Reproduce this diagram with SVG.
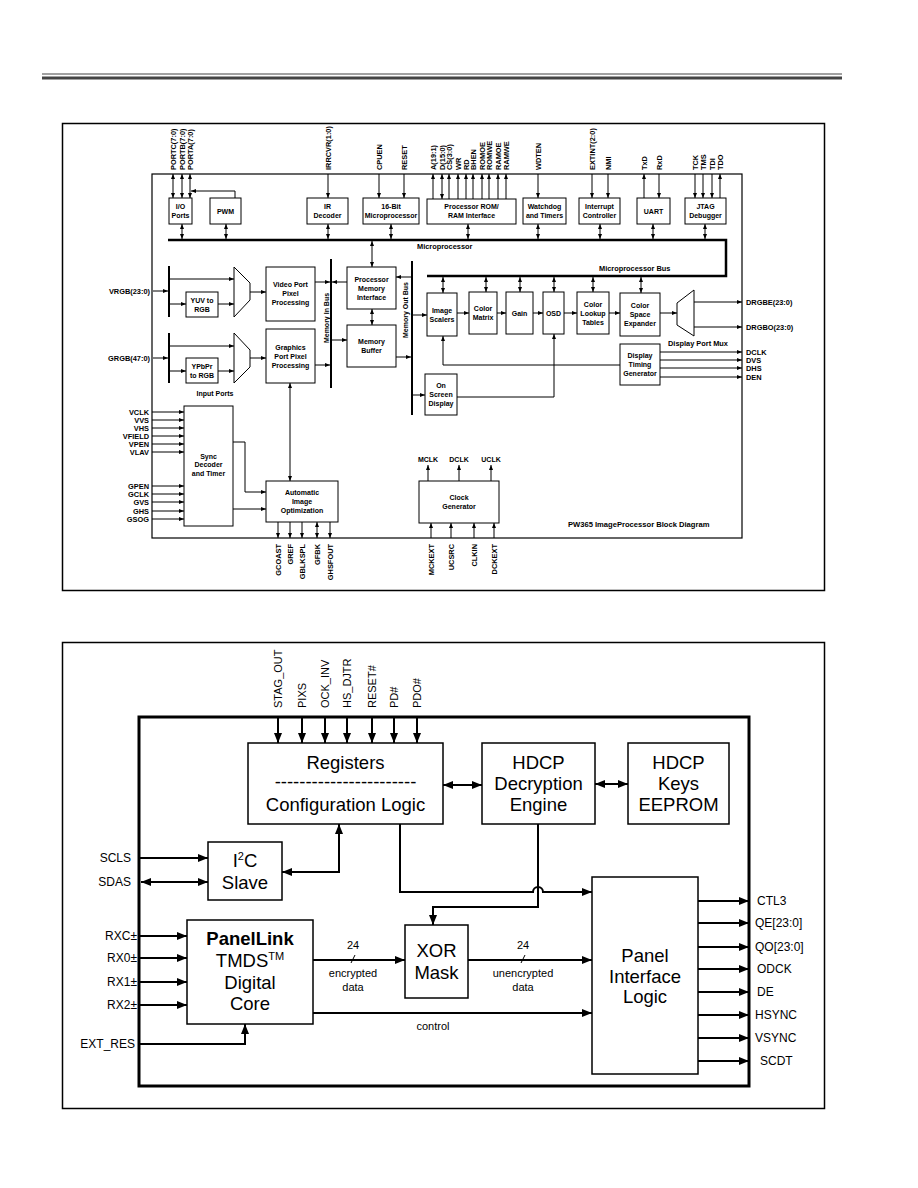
<svg xmlns="http://www.w3.org/2000/svg" width="918" height="1188" viewBox="0 0 918 1188">
<defs>
<marker id="s" viewBox="0 0 10 8" refX="10" refY="4" markerWidth="5" markerHeight="4" markerUnits="userSpaceOnUse" orient="auto-start-reverse"><path d="M0,0L10,4L0,8z" fill="#000"/></marker>
<marker id="b" viewBox="0 0 10 8" refX="10" refY="4" markerWidth="11" markerHeight="8" markerUnits="userSpaceOnUse" orient="auto-start-reverse"><path d="M0,0L10,4L0,8z" fill="#000"/></marker>
<style>
.bx{fill:#fff;stroke:#000;stroke-width:1}
.bx2{fill:#fff;stroke:#000;stroke-width:1.5}
.c{fill:none;stroke:#000;stroke-width:1}
.ca{fill:none;stroke:#000;stroke-width:1;marker-end:url(#s)}
.cd{fill:none;stroke:#000;stroke-width:1;marker-start:url(#s);marker-end:url(#s)}
.bus{fill:none;stroke:#000;stroke-width:2.5}
.C{fill:none;stroke:#000;stroke-width:2}
.CA{fill:none;stroke:#000;stroke-width:2;marker-end:url(#b)}
.CD{fill:none;stroke:#000;stroke-width:2;marker-start:url(#b);marker-end:url(#b)}
text{font-family:"Liberation Sans",Arial,sans-serif;fill:#000}
.t{font-size:7px;font-weight:bold;text-anchor:middle}
.tl{font-size:7.4px;font-weight:bold}
.tr{font-size:7.4px;font-weight:bold;text-anchor:end}
.T{font-size:18.5px;text-anchor:middle}
.L{font-size:12px}
.Lr{font-size:12px;text-anchor:end}
.P{font-size:11px}
.m{font-size:11px;text-anchor:middle}
</style>
</defs>
<rect width="918" height="1188" fill="#fff"/>
<g id="header">
<line x1="42" y1="74" x2="842" y2="74" stroke="#444" stroke-width="1.2"/>
<line x1="42" y1="78" x2="842" y2="78" stroke="#444" stroke-width="3"/>
</g>

<!-- ================= TOP DIAGRAM ================= -->
<g id="top-frame">
<rect x="62.5" y="123.5" width="762" height="467" fill="none" stroke="#000" stroke-width="1.5"/>
<rect x="152" y="174" width="590" height="364" fill="none" stroke="#000" stroke-width="1.2"/>
<text class="tl" x="568" y="527" style="font-size:7.6px">PW365 ImageProcessor Block Diagram</text>
</g>

<g id="top-connectors">
<line class="cd" x1="173" y1="174" x2="173" y2="198"/>
<line class="cd" x1="182" y1="174" x2="182" y2="198"/>
<line class="cd" x1="190" y1="174" x2="190" y2="198"/>
<polyline class="ca" points="235,198 235,191 191,191"/>
<line class="ca" x1="328" y1="174" x2="328" y2="198"/>
<line class="ca" x1="379" y1="174" x2="379" y2="198"/>
<line class="ca" x1="404" y1="174" x2="404" y2="198"/>
<line class="ca" x1="433" y1="199" x2="433" y2="174"/>
<line class="cd" x1="442" y1="174" x2="442" y2="199"/>
<line class="ca" x1="449" y1="199" x2="449" y2="174"/>
<line class="ca" x1="458" y1="199" x2="458" y2="174"/>
<line class="ca" x1="466" y1="199" x2="466" y2="174"/>
<line class="ca" x1="473" y1="199" x2="473" y2="174"/>
<line class="ca" x1="482" y1="199" x2="482" y2="174"/>
<line class="ca" x1="489" y1="199" x2="489" y2="174"/>
<line class="ca" x1="498" y1="199" x2="498" y2="174"/>
<line class="ca" x1="506" y1="199" x2="506" y2="174"/>
<line class="ca" x1="538" y1="174" x2="538" y2="198"/>
<line class="ca" x1="592" y1="174" x2="592" y2="198"/>
<line class="ca" x1="608" y1="174" x2="608" y2="198"/>
<line class="ca" x1="644" y1="198" x2="644" y2="174"/>
<line class="ca" x1="659" y1="174" x2="659" y2="198"/>
<line class="ca" x1="695" y1="174" x2="695" y2="198"/>
<line class="ca" x1="703" y1="174" x2="703" y2="198"/>
<line class="ca" x1="712" y1="174" x2="712" y2="198"/>
<line class="ca" x1="720" y1="198" x2="720" y2="174"/>
<line class="cd" x1="182" y1="224" x2="182" y2="239"/>
<line class="cd" x1="226" y1="224" x2="226" y2="239"/>
<line class="cd" x1="328" y1="224" x2="328" y2="239"/>
<line class="cd" x1="391" y1="224" x2="391" y2="239"/>
<line class="cd" x1="468" y1="224" x2="468" y2="239"/>
<line class="cd" x1="538" y1="224" x2="538" y2="239"/>
<line class="cd" x1="600" y1="224" x2="600" y2="239"/>
<line class="cd" x1="653" y1="224" x2="653" y2="239"/>
<line class="cd" x1="705" y1="224" x2="705" y2="239"/>
<polyline class="bus" points="168,240 726,240 726,276 427,276"/>
<text class="tl" x="417" y="249">Microprocessor</text>
<text class="tl" x="599" y="271">Microprocessor Bus</text>
<line class="cd" x1="372" y1="241" x2="372" y2="267"/>
<line class="cd" x1="372" y1="309" x2="372" y2="325"/>
<line class="C" x1="331" y1="259" x2="331" y2="388"/>
<text class="t" transform="translate(329,318) rotate(-90)">Memory In Bus</text>
<line class="C" x1="412" y1="261" x2="412" y2="415"/>
<text class="t" transform="translate(407.5,310) rotate(-90)">Memory Out Bus</text>
<line class="ca" x1="315" y1="282" x2="330" y2="282"/>
<line class="ca" x1="347" y1="282" x2="332" y2="282"/>
<line class="ca" x1="332" y1="340" x2="347" y2="340"/>
<line class="ca" x1="315" y1="365" x2="330" y2="365"/>
<line class="ca" x1="411" y1="277" x2="396" y2="277"/>
<line class="ca" x1="396" y1="357" x2="411" y2="357"/>
<line class="ca" x1="413" y1="315" x2="427" y2="315"/>
<line class="ca" x1="413" y1="395" x2="425" y2="395"/>
<line class="ca" x1="153" y1="291" x2="168" y2="291"/>
<line class="C" x1="169" y1="266" x2="169" y2="317"/>
<line class="ca" x1="170" y1="279" x2="234" y2="279"/>
<line class="ca" x1="170" y1="304" x2="186" y2="304"/>
<line class="ca" x1="218" y1="304" x2="234" y2="304"/>
<line class="ca" x1="250" y1="292" x2="266" y2="292"/>
<line class="ca" x1="153" y1="358" x2="168" y2="358"/>
<line class="C" x1="169" y1="333" x2="169" y2="383"/>
<line class="ca" x1="170" y1="346" x2="234" y2="346"/>
<line class="ca" x1="170" y1="371" x2="186" y2="371"/>
<line class="ca" x1="218" y1="371" x2="234" y2="371"/>
<line class="ca" x1="250" y1="358" x2="266" y2="358"/>
<line class="cd" x1="290" y1="383" x2="290" y2="481"/>
<line class="ca" x1="152" y1="412" x2="184" y2="412"/>
<line class="ca" x1="152" y1="420" x2="184" y2="420"/>
<line class="ca" x1="152" y1="428" x2="184" y2="428"/>
<line class="ca" x1="152" y1="436" x2="184" y2="436"/>
<line class="ca" x1="152" y1="444" x2="184" y2="444"/>
<line class="ca" x1="152" y1="452" x2="184" y2="452"/>
<line class="ca" x1="152" y1="486" x2="184" y2="486"/>
<line class="ca" x1="152" y1="494" x2="184" y2="494"/>
<line class="ca" x1="152" y1="502" x2="184" y2="502"/>
<line class="ca" x1="152" y1="511" x2="184" y2="511"/>
<line class="ca" x1="152" y1="519" x2="184" y2="519"/>
<polyline class="ca" points="233,442 245,442 245,492 266,492"/>
<line class="ca" x1="233" y1="509" x2="266" y2="509"/>
<line class="ca" x1="278" y1="522" x2="278" y2="538"/>
<line class="ca" x1="290" y1="522" x2="290" y2="538"/>
<line class="ca" x1="302" y1="522" x2="302" y2="538"/>
<line class="cd" x1="317" y1="522" x2="317" y2="538"/>
<line class="ca" x1="330" y1="522" x2="330" y2="538"/>
<line class="ca" x1="457" y1="313" x2="469" y2="313"/>
<line class="ca" x1="497" y1="313" x2="506" y2="313"/>
<line class="ca" x1="533" y1="313" x2="543" y2="313"/>
<line class="ca" x1="564" y1="313" x2="577" y2="313"/>
<line class="ca" x1="609" y1="313" x2="620" y2="313"/>
<line class="ca" x1="660" y1="313" x2="677" y2="313"/>
<line class="cd" x1="443" y1="277" x2="443" y2="293"/>
<line class="cd" x1="486" y1="277" x2="486" y2="292"/>
<line class="cd" x1="520" y1="277" x2="520" y2="292"/>
<line class="cd" x1="554" y1="277" x2="554" y2="292"/>
<line class="cd" x1="593" y1="277" x2="593" y2="292"/>
<line class="cd" x1="641" y1="277" x2="641" y2="293"/>
<line class="ca" x1="694" y1="302" x2="742" y2="302"/>
<line class="ca" x1="694" y1="327" x2="742" y2="327"/>
<line class="ca" x1="660" y1="352" x2="742" y2="352"/>
<line class="ca" x1="660" y1="360" x2="742" y2="360"/>
<line class="ca" x1="660" y1="368" x2="742" y2="368"/>
<line class="ca" x1="660" y1="377" x2="742" y2="377"/>
<polyline class="ca" points="620,365 443,365 443,336"/>
<polyline class="ca" points="457,397 554,397 554,334"/>
<line class="ca" x1="428" y1="481" x2="428" y2="465"/>
<line class="ca" x1="459" y1="481" x2="459" y2="465"/>
<line class="ca" x1="491" y1="481" x2="491" y2="465"/>
<line class="ca" x1="431" y1="538" x2="431" y2="523"/>
<line class="ca" x1="451" y1="538" x2="451" y2="523"/>
<line class="ca" x1="474" y1="538" x2="474" y2="523"/>
<line class="ca" x1="494" y1="538" x2="494" y2="523"/>
</g>

<g id="top-pin-labels">
<text class="tl" transform="translate(175.5,170) rotate(-90)">PORTC(7:0)</text>
<text class="tl" transform="translate(184.5,170) rotate(-90)">PORTB(7:0)</text>
<text class="tl" transform="translate(192.5,170) rotate(-90)">PORTA(7:0)</text>
<text class="tl" transform="translate(330.5,170) rotate(-90)">IRRCVR(1:0)</text>
<text class="tl" transform="translate(381.5,170) rotate(-90)">CPUEN</text>
<text class="tl" transform="translate(406.5,170) rotate(-90)">RESET</text>
<text class="tl" transform="translate(435.5,170) rotate(-90)">A(19:1)</text>
<text class="tl" transform="translate(444.5,170) rotate(-90)">D(15:0)</text>
<text class="tl" transform="translate(451.5,170) rotate(-90)">CS(3:0)</text>
<text class="tl" transform="translate(460.5,170) rotate(-90)">WR</text>
<text class="tl" transform="translate(468.5,170) rotate(-90)">RD</text>
<text class="tl" transform="translate(475.5,170) rotate(-90)">BHEN</text>
<text class="tl" transform="translate(484.5,170) rotate(-90)">ROMOE</text>
<text class="tl" transform="translate(491.5,170) rotate(-90)">ROMWE</text>
<text class="tl" transform="translate(500.5,170) rotate(-90)">RAMOE</text>
<text class="tl" transform="translate(508.5,170) rotate(-90)">RAMWE</text>
<text class="tl" transform="translate(540.5,170) rotate(-90)">WDTEN</text>
<text class="tl" transform="translate(594.5,170) rotate(-90)">EXTINT(2:0)</text>
<text class="tl" transform="translate(610.5,170) rotate(-90)">NMI</text>
<text class="tl" transform="translate(646.5,170) rotate(-90)">TxD</text>
<text class="tl" transform="translate(661.5,170) rotate(-90)">RxD</text>
<text class="tl" transform="translate(697.5,170) rotate(-90)">TCK</text>
<text class="tl" transform="translate(705.5,170) rotate(-90)">TMS</text>
<text class="tl" transform="translate(714.5,170) rotate(-90)">TDI</text>
<text class="tl" transform="translate(722.5,170) rotate(-90)">TDO</text>
<text class="tr" x="150" y="293.5">VRGB(23:0)</text>
<text class="tr" x="150" y="360.5">GRGB(47:0)</text>
<text class="tr" x="149" y="414.5">VCLK</text>
<text class="tr" x="149" y="422.5">VVS</text>
<text class="tr" x="149" y="430.5">VHS</text>
<text class="tr" x="149" y="438.5">VFIELD</text>
<text class="tr" x="149" y="446.5">VPEN</text>
<text class="tr" x="149" y="454.5">VLAV</text>
<text class="tr" x="149" y="488.5">GPEN</text>
<text class="tr" x="149" y="496.5">GCLK</text>
<text class="tr" x="149" y="504.5">GVS</text>
<text class="tr" x="149" y="513.5">GHS</text>
<text class="tr" x="149" y="521.5">GSOG</text>
<text class="tr" transform="translate(280.5,544) rotate(-90)">GCOAST</text>
<text class="tr" transform="translate(292.5,544) rotate(-90)">GREF</text>
<text class="tr" transform="translate(304.5,544) rotate(-90)">GBLKSPL</text>
<text class="tr" transform="translate(319.5,544) rotate(-90)">GFBK</text>
<text class="tr" transform="translate(332.5,544) rotate(-90)">GHSFOUT</text>
<text class="tr" transform="translate(433.5,544) rotate(-90)">MCKEXT</text>
<text class="tr" transform="translate(453.5,544) rotate(-90)">UCSRC</text>
<text class="tr" transform="translate(476.5,544) rotate(-90)">CLKIN</text>
<text class="tr" transform="translate(496.5,544) rotate(-90)">DCKEXT</text>
<text class="t" x="428" y="462">MCLK</text>
<text class="t" x="459" y="462">DCLK</text>
<text class="t" x="491" y="462">UCLK</text>
<text class="tl" x="746" y="304.5">DRGBE(23:0)</text>
<text class="tl" x="746" y="329.5">DRGBO(23:0)</text>
<text class="tl" x="746" y="354.5">DCLK</text>
<text class="tl" x="746" y="362.5">DVS</text>
<text class="tl" x="746" y="370.5">DHS</text>
<text class="tl" x="746" y="379.5">DEN</text>
<text class="t" x="215" y="395.5">Input Ports</text>
<text class="tl" x="668" y="345.5">Display Port Mux</text>
</g>

<g id="io-ports"><rect class="bx" x="169" y="198" width="23" height="26"/><text class="t" x="180.5" y="209">I/O</text><text class="t" x="180.5" y="218">Ports</text></g>
<g id="pwm"><rect class="bx" x="210" y="198" width="31" height="26"/><text class="t" x="225.5" y="213.5">PWM</text></g>
<g id="ir-decoder"><rect class="bx" x="307" y="198" width="41" height="26"/><text class="t" x="327.5" y="209">IR</text><text class="t" x="327.5" y="218">Decoder</text></g>
<g id="microprocessor"><rect class="bx" x="363" y="198" width="56" height="26"/><text class="t" x="391" y="209">16-Bit</text><text class="t" x="391" y="218">Microprocessor</text></g>
<g id="rom-ram-if"><rect class="bx" x="427" y="199" width="89" height="25"/><text class="t" x="471.5" y="209">Processor ROM/</text><text class="t" x="471.5" y="218">RAM Interface</text></g>
<g id="watchdog"><rect class="bx" x="523" y="198" width="43" height="26"/><text class="t" x="544.5" y="209">Watchdog</text><text class="t" x="544.5" y="218">and Timers</text></g>
<g id="interrupt"><rect class="bx" x="579" y="198" width="41" height="26"/><text class="t" x="599.5" y="209">Interrupt</text><text class="t" x="599.5" y="218">Controller</text></g>
<g id="uart"><rect class="bx" x="637" y="198" width="33" height="26"/><text class="t" x="653.5" y="213.5">UART</text></g>
<g id="jtag"><rect class="bx" x="685" y="198" width="41" height="26"/><text class="t" x="705.5" y="209">JTAG</text><text class="t" x="705.5" y="218">Debugger</text></g>
<g id="pmi"><rect class="bx" x="347" y="267" width="49" height="42"/><text class="t" x="371.5" y="281.5">Processor</text><text class="t" x="371.5" y="290.5">Memory</text><text class="t" x="371.5" y="299.5">Interface</text></g>
<g id="mem-buffer"><rect class="bx" x="347" y="325" width="49" height="42"/><text class="t" x="371.5" y="344">Memory</text><text class="t" x="371.5" y="353">Buffer</text></g>
<g id="yuv"><rect class="bx" x="186" y="292" width="32" height="25"/><text class="t" x="202" y="302.5">YUV to</text><text class="t" x="202" y="311.5">RGB</text></g>
<g id="mux-v"><polygon points="234,267 250,283 250,300 234,317" fill="#fff" stroke="#000" stroke-width="1"/></g>
<g id="video-port"><rect class="bx" x="266" y="267" width="49" height="54"/><text class="t" x="290.5" y="286.5">Video Port</text><text class="t" x="290.5" y="295.5">Pixel</text><text class="t" x="290.5" y="304.5">Processing</text></g>
<g id="ypbpr"><rect class="bx" x="186" y="358" width="32" height="25"/><text class="t" x="202" y="368.5">YPbPr</text><text class="t" x="202" y="377.5">to RGB</text></g>
<g id="mux-g"><polygon points="234,333 250,350 250,367 234,383" fill="#fff" stroke="#000" stroke-width="1"/></g>
<g id="graphics-port"><rect class="bx" x="266" y="329" width="49" height="54"/><text class="t" x="290.5" y="349.5">Graphics</text><text class="t" x="290.5" y="358.5">Port Pixel</text><text class="t" x="290.5" y="367.5">Processing</text></g>
<g id="sync"><rect class="bx" x="184" y="406" width="49" height="120"/><text class="t" x="208.5" y="458.5">Sync</text><text class="t" x="208.5" y="467">Decoder</text><text class="t" x="208.5" y="475.5">and Timer</text></g>
<g id="aio"><rect class="bx" x="266" y="481" width="72" height="41"/><text class="t" x="302" y="494.5">Automatic</text><text class="t" x="302" y="503.5">Image</text><text class="t" x="302" y="512.5">Optimization</text></g>
<g id="image-scalers"><rect class="bx" x="427" y="293" width="30" height="43"/><text class="t" x="442" y="312.5">Image</text><text class="t" x="442" y="321.5">Scalers</text></g>
<g id="color-matrix"><rect class="bx" x="469" y="292" width="28" height="42"/><text class="t" x="483" y="311">Color</text><text class="t" x="483" y="320">Matrix</text></g>
<g id="gain"><rect class="bx" x="506" y="292" width="27" height="42"/><text class="t" x="519.5" y="315.5">Gain</text></g>
<g id="osd"><rect class="bx" x="543" y="292" width="21" height="42"/><text class="t" x="553.5" y="315.5">OSD</text></g>
<g id="clut"><rect class="bx" x="577" y="292" width="32" height="42"/><text class="t" x="593" y="306.5">Color</text><text class="t" x="593" y="315.5">Lookup</text><text class="t" x="593" y="324.5">Tables</text></g>
<g id="cse"><rect class="bx" x="620" y="293" width="40" height="43"/><text class="t" x="640" y="308">Color</text><text class="t" x="640" y="317">Space</text><text class="t" x="640" y="326">Expander</text></g>
<g id="display-mux"><polygon points="677,303 694,290 694,336 677,325" fill="#fff" stroke="#000" stroke-width="1"/></g>
<g id="dtg"><rect class="bx" x="620" y="344" width="40" height="41"/><text class="t" x="640" y="358">Display</text><text class="t" x="640" y="367">Timing</text><text class="t" x="640" y="376">Generator</text></g>
<g id="on-screen-display"><rect class="bx" x="425" y="374" width="32" height="41"/><text class="t" x="441" y="388">On</text><text class="t" x="441" y="397">Screen</text><text class="t" x="441" y="406">Display</text></g>
<g id="clock-gen"><rect class="bx" x="419" y="481" width="80" height="42"/><text class="t" x="459" y="500">Clock</text><text class="t" x="459" y="509">Generator</text></g>

<!-- ================= BOTTOM DIAGRAM ================= -->
<g id="bottom-frame">
<rect x="62.5" y="642.5" width="762" height="466" fill="none" stroke="#000" stroke-width="1.5"/>
<rect x="139" y="717" width="610" height="369" fill="none" stroke="#000" stroke-width="3"/>
</g>

<g id="bottom-connectors">
<line class="CA" x1="278" y1="718" x2="278" y2="743"/>
<line class="CA" x1="302" y1="718" x2="302" y2="743"/>
<line class="CA" x1="325" y1="718" x2="325" y2="743"/>
<line class="CA" x1="347" y1="718" x2="347" y2="743"/>
<line class="CA" x1="372" y1="718" x2="372" y2="743"/>
<line class="CA" x1="394" y1="718" x2="394" y2="743"/>
<line class="CA" x1="417" y1="718" x2="417" y2="743"/>
<line class="CD" x1="443" y1="785" x2="482" y2="785"/>
<line class="CD" x1="595" y1="784" x2="628" y2="784"/>
<path class="CD" d="M339,824 V872 H282"/>
<line class="CA" x1="140" y1="858" x2="208" y2="858"/>
<line class="CD" x1="141" y1="882" x2="208" y2="882"/>
<path class="CA" d="M538,824 V907 H433 V925"/>
<path class="CA" d="M400,824 V892 H533 A5,5 0 0 1 543,892 H592"/>
<line class="CA" x1="140" y1="936" x2="187" y2="936"/>
<line class="CA" x1="140" y1="958" x2="187" y2="958"/>
<line class="CA" x1="140" y1="982" x2="187" y2="982"/>
<line class="CA" x1="140" y1="1005" x2="187" y2="1005"/>
<path class="CA" d="M140,1044 H245 V1024"/>
<line class="CA" x1="313" y1="960" x2="405" y2="960"/>
<line class="C" x1="351" y1="963" x2="355" y2="955" style="stroke-width:1"/>
<line class="CA" x1="468" y1="960" x2="592" y2="960"/>
<line class="C" x1="521" y1="963" x2="525" y2="955" style="stroke-width:1"/>
<path class="CA" d="M313,1013 H592"/>
<line class="CA" x1="698" y1="901" x2="749" y2="901"/>
<line class="CA" x1="698" y1="923" x2="749" y2="923"/>
<line class="CA" x1="698" y1="947" x2="749" y2="947"/>
<line class="CA" x1="698" y1="969" x2="749" y2="969"/>
<line class="CA" x1="698" y1="992" x2="749" y2="992"/>
<line class="CA" x1="698" y1="1015" x2="749" y2="1015"/>
<line class="CA" x1="698" y1="1038" x2="749" y2="1038"/>
<line class="CA" x1="698" y1="1061" x2="749" y2="1061"/>
<text class="m" x="353" y="949">24</text>
<text class="m" x="353" y="977">encrypted</text>
<text class="m" x="353" y="991">data</text>
<text class="m" x="523" y="949">24</text>
<text class="m" x="523" y="977">unencrypted</text>
<text class="m" x="523" y="991">data</text>
<text class="m" x="433" y="1030">control</text>
</g>

<g id="bottom-pin-labels">
<text class="P" transform="translate(282,708) rotate(-90)">STAG_OUT</text>
<text class="P" transform="translate(306,708) rotate(-90)">PIXS</text>
<text class="P" transform="translate(329,708) rotate(-90)">OCK_INV</text>
<text class="P" transform="translate(351,708) rotate(-90)">HS_DJTR</text>
<text class="P" transform="translate(376,708) rotate(-90)">RESET#</text>
<text class="P" transform="translate(398,708) rotate(-90)">PD#</text>
<text class="P" transform="translate(421,708) rotate(-90)">PDO#</text>
<text class="Lr" x="131" y="862">SCLS</text>
<text class="Lr" x="131" y="886">SDAS</text>
<text class="Lr" x="137" y="940">RXC±</text>
<text class="Lr" x="137" y="962">RX0±</text>
<text class="Lr" x="137" y="986">RX1±</text>
<text class="Lr" x="137" y="1009">RX2±</text>
<text class="Lr" x="135" y="1048">EXT_RES</text>
<text class="L" x="757" y="905">CTL3</text>
<text class="L" x="755" y="927">QE[23:0]</text>
<text class="L" x="755" y="951">QO[23:0]</text>
<text class="L" x="757" y="973">ODCK</text>
<text class="L" x="757" y="996">DE</text>
<text class="L" x="755" y="1019">HSYNC</text>
<text class="L" x="755" y="1042">VSYNC</text>
<text class="L" x="760" y="1065">SCDT</text>
</g>

<g id="registers"><rect class="bx2" x="248" y="743" width="195" height="81"/><text class="T" x="345.5" y="769">Registers</text><text class="T" x="345.5" y="788">-----------------------</text><text class="T" x="345.5" y="811">Configuration Logic</text></g>
<g id="hdcp-engine"><rect class="bx2" x="482" y="743" width="113" height="81"/><text class="T" x="538.5" y="769">HDCP</text><text class="T" x="538.5" y="790">Decryption</text><text class="T" x="538.5" y="811">Engine</text></g>
<g id="hdcp-keys"><rect class="bx2" x="628" y="743" width="101" height="81"/><text class="T" x="678.5" y="769">HDCP</text><text class="T" x="678.5" y="790">Keys</text><text class="T" x="678.5" y="811">EEPROM</text></g>
<g id="i2c-slave"><rect class="bx2" x="208" y="842" width="74" height="58"/><text class="T" x="245" y="867">I<tspan font-size="11" dy="-7">2</tspan><tspan dy="7">C</tspan></text><text class="T" x="245" y="889">Slave</text></g>
<g id="panellink"><rect class="bx2" x="187" y="920" width="126" height="104"/><text class="T" x="250" y="945" font-weight="bold">PanelLink</text><text class="T" x="250" y="967">TMDS<tspan font-size="11" dy="-7">TM</tspan></text><text class="T" x="250" y="989">Digital</text><text class="T" x="250" y="1010">Core</text></g>
<g id="xor-mask"><rect class="bx2" x="405" y="925" width="63" height="73"/><text class="T" x="436.5" y="957">XOR</text><text class="T" x="436.5" y="979">Mask</text></g>
<g id="panel-interface"><rect class="bx2" x="592" y="877" width="106" height="197"/><text class="T" x="645" y="962">Panel</text><text class="T" x="645" y="983">Interface</text><text class="T" x="645" y="1003">Logic</text></g>
</svg>
